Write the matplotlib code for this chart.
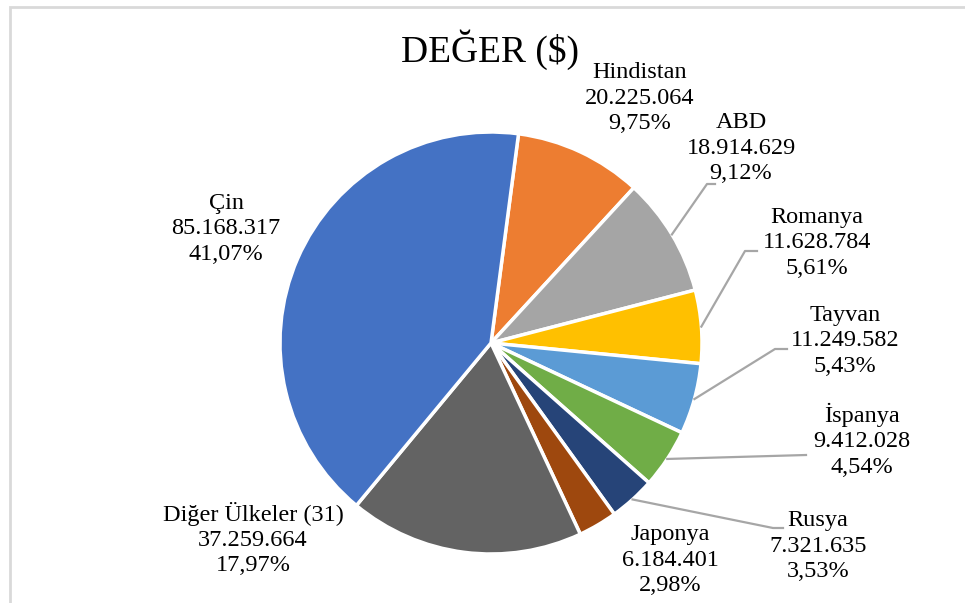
import numpy as np
import matplotlib
matplotlib.use("Agg")
import matplotlib.pyplot as plt
from matplotlib.patches import Rectangle

plt.rcParams['font.family'] = ['Liberation Serif', 'DejaVu Serif']

# clockwise from the top
countries = ["Hindistan", "ABD", "Romanya", "Tayvan", "İspanya",
             "Rusya", "Japonya", "Diğer Ülkeler (31)", "Çin"]
values = [20225064, 18914629, 11628784, 11249582, 9412028,
          7321635, 6184401, 37259664, 85168317]
colors = ["#ED7D31", "#A5A5A5", "#FFC000", "#5B9BD5", "#70AD47",
          "#264478", "#9E480E", "#636363", "#4472C4"]

W, H = 965, 603
cx, cy, R = 491, H - 343, 211
start = 82.5

# label centres (pixel coords, y from top) and leader bend points
label_pos = [(640, 98), (741, 148), (817, 243), (845, 341), (862, 440),
             (818, 546), (670, 560), (253, 539), (226, 229)]
leaders = {1: [(707, 184), (715, 184)],
           2: [(745, 251), (757, 251)],
           3: [(775, 349), (787, 349)],
           4: [(806, 455)],
           5: [(773, 528), (783, 528)]}


def fmt_val(v):
    return "{:,}".format(v).replace(",", ".")


def plot_pie():
    fig = plt.figure(figsize=(W / 100, H / 100), dpi=100)
    ax = fig.add_axes([0, 0, 1, 1])

    ax.pie(values, colors=colors, startangle=start, counterclock=False,
           center=(cx, cy), radius=R,
           wedgeprops=dict(edgecolor="white", linewidth=2.5))
    ax.set_xlim(0, W)
    ax.set_ylim(0, H)
    ax.set_aspect("equal")
    ax.axis("off")

    total = float(sum(values))
    ang = start
    for i, v in enumerate(values):
        span = v / total * 360
        mid = np.radians(ang - span / 2)
        ang -= span
        pct = "{:.2f}%".format(v / total * 100).replace(".", ",")
        txt = "{}\n{}\n{}".format(countries[i], fmt_val(v), pct)
        lx, ly = label_pos[i]
        ax.text(lx, H - ly, txt, ha="center", va="center", fontsize=17.5,
                linespacing=1.28, color="#000000")
        if i in leaders:
            pts = [(cx + R * np.cos(mid), cy + R * np.sin(mid))]
            pts += [(x, H - y) for x, y in leaders[i]]
            xs, ys = zip(*pts)
            ax.plot(xs, ys, color="#A6A6A6", linewidth=1.6)

    ax.text(490, H - 50, "DEĞER ($)", ha="center", va="center", fontsize=27)

    # chart area border
    fig.patches.append(Rectangle((10 / W, -0.1), 1.2, 1 - 7 / H + 0.1,
                                 transform=fig.transFigure, fill=False,
                                 edgecolor="#D9D9D9", linewidth=2))
    plt.savefig("out.png", dpi=100)


if __name__ == "__main__":
    plot_pie()
